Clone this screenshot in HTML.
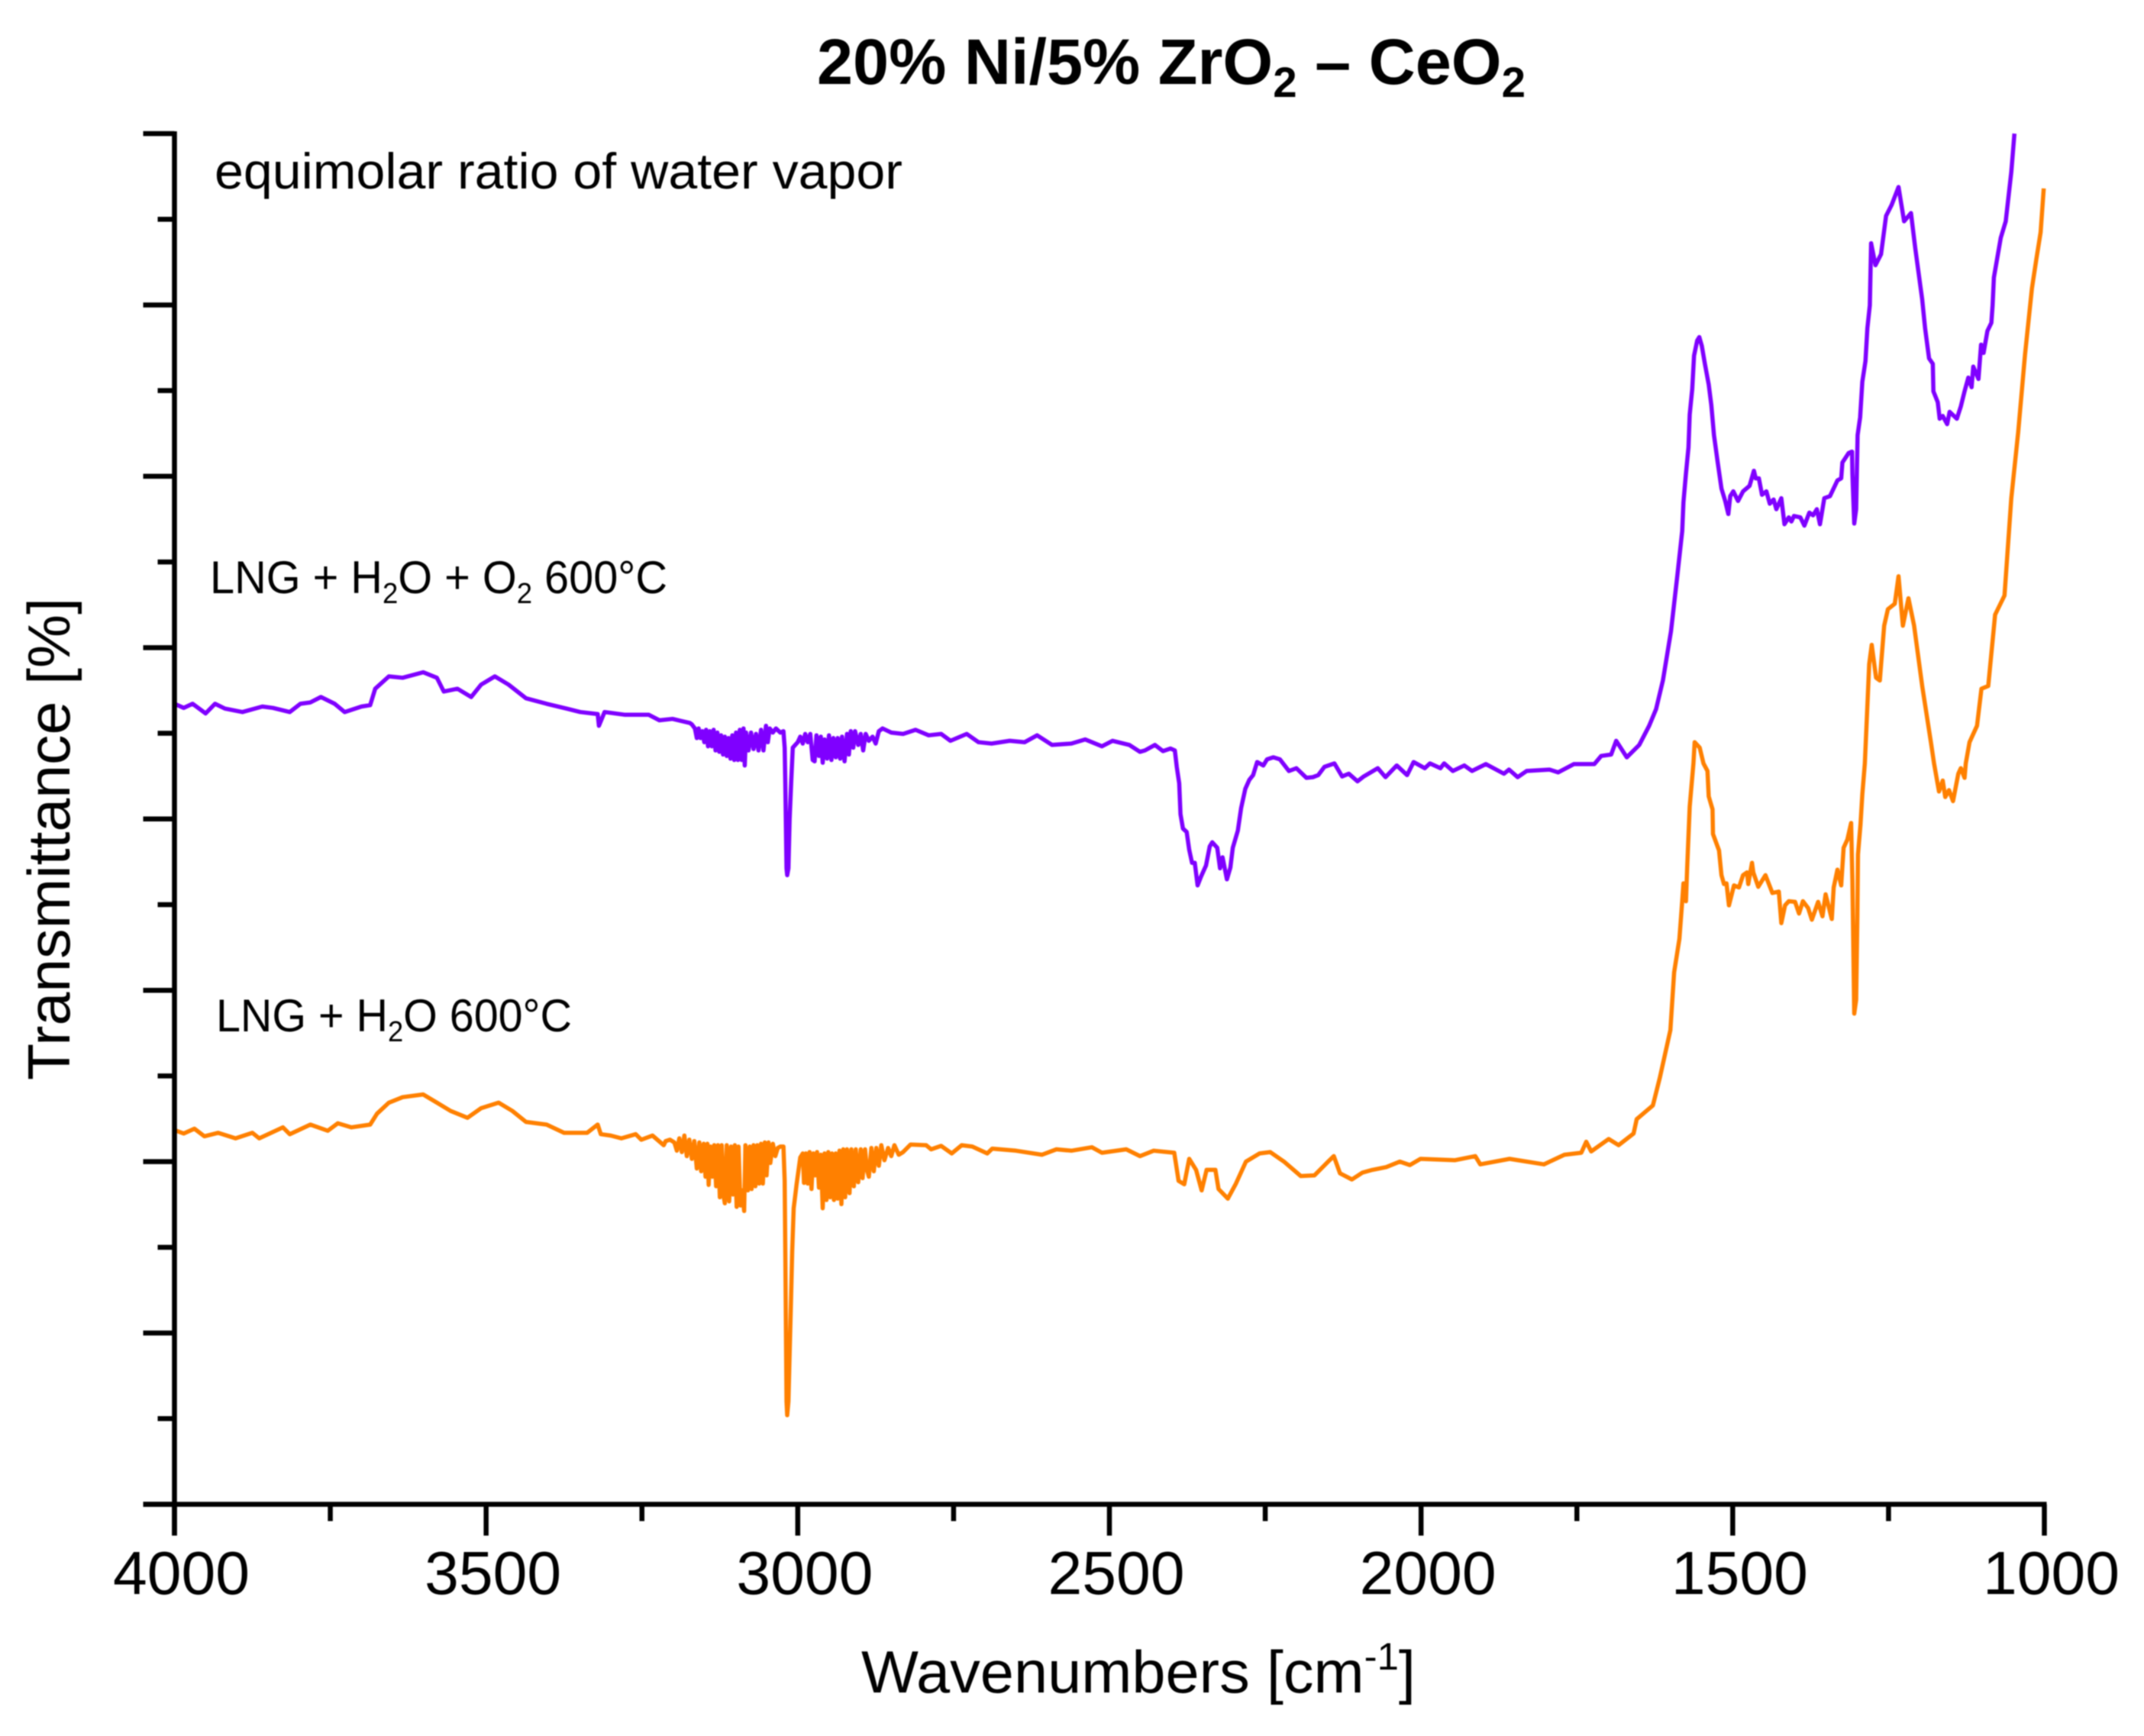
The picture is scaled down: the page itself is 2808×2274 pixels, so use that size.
<!DOCTYPE html>
<html lang="en">
<head>
<meta charset="utf-8">
<title>20% Ni/5% ZrO2 – CeO2 FTIR spectra</title>
<style>
  html, body { margin: 0; padding: 0; background: #ffffff; }
  svg { display: block; filter: blur(0.8px); }
  text { font-family: "Liberation Sans", sans-serif; fill: #000000; }
</style>
</head>
<body>
<svg id="chart" xmlns="http://www.w3.org/2000/svg" width="2808" height="2274" viewBox="0 0 2808 2274">
  <rect x="0" y="0" width="2808" height="2274" fill="#ffffff"/>
  <g id="series-layer"></g>
  <g id="axis-layer"></g>

  <text x="1070" y="110" font-size="84" font-weight="bold" textLength="928" lengthAdjust="spacingAndGlyphs">20% Ni/5% ZrO<tspan font-size="56" dy="17">2</tspan><tspan dy="-17"> – CeO</tspan><tspan font-size="56" dy="17">2</tspan></text>

  <text x="281" y="247" font-size="66" textLength="901" lengthAdjust="spacingAndGlyphs">equimolar ratio of water vapor</text>

  <text x="275" y="777" font-size="60" textLength="599" lengthAdjust="spacingAndGlyphs">LNG + H<tspan font-size="38" dy="13">2</tspan><tspan dy="-13">O + O</tspan><tspan font-size="38" dy="13">2</tspan><tspan dy="-13"> 600°C</tspan></text>

  <text x="283" y="1351" font-size="60" textLength="466" lengthAdjust="spacingAndGlyphs">LNG + H<tspan font-size="38" dy="13">2</tspan><tspan dy="-13">O 600°C</tspan></text>

  <text x="1128" y="2217" font-size="78" textLength="726" lengthAdjust="spacingAndGlyphs">Wavenumbers [cm<tspan font-size="50" dy="-30">-1</tspan><tspan dy="30">]</tspan></text>

  <text transform="translate(91,1415) rotate(-90)" x="0" y="0" font-size="78" textLength="632" lengthAdjust="spacingAndGlyphs">Transmittance [%]</text>
</svg>

<script>
const xMajorTicks = [4000, 3500, 3000, 2500, 2000, 1500, 1000];
const xMinorTicks = [3750, 3250, 2750, 2250, 1750, 1250];
const xTickLabels = ["4000", "3500", "3000", "2500", "2000", "1500", "1000"];
const yMajorTicks = [0, 12.5, 25, 37.5, 50, 62.5, 75, 87.5, 100];
const yMinorTicks = [6.25, 18.75, 31.25, 43.75, 56.25, 68.75, 81.25, 93.75];

const purpleWavenumbers = [4000,3985,3971,3950,3935,3919,3891,3859,3842,3815,3798,3782,3765,3743,3727,3700,3686,3678,3656,3634,3601,3579,3568,3546,3524,3508,3486,3464,3436,3403,3371,3349,3321,3319,3310,3277,3239,3222,3201,3173,
3170,3165,3162,3159,3156,3153,3150,3147,3144,3141,3138,3135,3132,3129,3126,3123,3120,3117,3114,3111,3108,3105,3102,3099,3096,3093,3090,3087,3085,3083,3079,3075,3071,3067,3063,3059,3055,3051,3048,3045,3040,3035,3028,3023,
3021,3020,3018,3017,3015,3013,3010.5,3008,3000,2996,
2992,2988,2984,2980,2976,2973,2970,2966,2963,2960,2957,2953,2950,2946,2943,2939,2936,2932,2929,2925,2921,2918,2915,2911,2908,2903,2899,2895,2891,2886,2880,2875,2870,2864,
2850,2831,2811,2790,2770,2755,2729,2710,2689,2660,2636,2616,2592,2561,2539,2512,2495,2468,2451,
2443,2427,2414,2402,2395,2392,2388,2386,2382,2376,2372,2367.5,2363,2358.5,2353,2345,2339,2335,2327,2322.5,2318.5,2311.5,2306,2302,2294,2288.7,2282,2275.6,2269.5,2263,2253,2247,2237,2226.6,2212,2200,2184,2173.5,2165,2155,2139,2126.6,2116,2102,2092,2069.4,2057,2039,2022.4,2012,1994,1985.7,1969,1963,1949,1930.6,1918.3,1896,1867,1859,1845,1830.5,
1794,1780,1755,1722,1711,1695,1687,1670,1650,1634,1623,1612,1599,1589,
1581,1579,1575,1571,1569,1565,1562,1557,1553.6,1549.5,1544.6,1538.5,1534.4,1530,1524,1518,1512,1507,1504,1499,1491.5,1483.4,1473,1466,1463,1458,1453,1446,1440.5,1434.4,1430,1422,1417,1410,1405.8,1401.7,1391.5,1385,1377,1371,1365,1360,1353,1344,1332,1326,1324,1314,1308.6,1308,1305,1302,1299.6,1295.6,1292,1287,1284,1280,
1278,1271,1262,1254,1245,1234,1225,1214,1207,1196,
1191.4,1185,1179,1178,1171,1168,1163,1156,1152,1140.4,1134,1128,1122,1116.7,1114,1105.7,1101.6,1097.5,1091.4,1085,1083,
1081,1070,1062,1053,1048];

const purpleTransmittance = [58.4,58.1,58.4,57.7,58.4,58.05,57.8,58.2,58.1,57.8,58.4,58.5,58.9,58.4,57.8,58.2,58.3,59.5,60.4,60.3,60.7,60.3,59.3,59.5,58.9,59.8,60.4,59.8,58.8,58.4,58.05,57.8,57.65,56.8,57.8,57.6,57.6,57.2,57.3,57.0,
56.9,56.6,55.9,56.6,55.9,56.4,55.6,56.5,55.3,56.4,55.3,56.5,55.0,56.3,54.9,56.1,54.7,56.0,54.6,55.9,54.4,56.1,54.3,56.3,54.3,56.5,54.3,56.6,53.9,56.3,55.0,56.3,55.1,56.2,55.0,56.5,55.0,56.8,55.6,56.6,56.3,56.6,56.3,56.4,
55.2,52.6,46.4,45.9,46.4,50.0,52.8,55.2,55.6,56.0,
55.5,56.2,55.6,56.2,54.3,54.2,56.1,54.6,56.0,54.1,55.8,54.4,56.1,54.3,55.9,54.5,55.9,54.4,56.0,54.2,56.2,54.7,56.4,55.2,56.4,55.4,56.2,55.0,56.2,55.7,56.0,55.5,56.4,56.6,
56.3,56.2,56.5,56.1,56.2,55.7,56.2,55.6,55.5,55.7,55.6,56.1,55.4,55.5,55.8,55.3,55.7,55.4,54.9,
55.0,55.4,54.95,55.14,55.0,53.8,52.6,50.35,49.3,49.05,47.75,46.8,46.8,45.15,45.8,46.6,48.0,48.3,47.9,46.4,47.2,45.6,46.45,47.9,49.15,50.8,52.2,52.85,53.2,54.15,53.9,54.35,54.5,54.35,53.5,53.7,53.0,53.05,53.2,53.8,54.05,53.1,53.3,52.75,53.1,53.7,53.05,53.9,53.2,54.15,53.7,54.05,53.7,54.05,53.5,53.9,53.5,54.0,53.3,53.6,53.05,53.5,
53.6,53.4,54.0,54.0,54.6,54.7,55.7,54.5,55.4,56.8,58.0,60.1,63.7,67.7,
71.0,73.1,75.2,77.1,79.5,81.35,83.8,84.9,85.15,84.5,83.2,81.7,80.2,78.0,76.0,74.1,73.2,72.25,73.55,73.9,73.2,73.9,74.3,75.4,74.85,74.85,73.65,73.9,73.0,73.3,72.6,73.4,71.5,72.0,71.7,72.1,72.0,71.4,72.35,72.15,72.6,71.5,73.4,73.55,74.7,74.85,76.0,76.7,76.8,75.2,71.55,72.6,78.0,79.3,81.9,83.4,85.8,87.47,
92.0,90.4,91.2,94.0,94.8,96.1,93.6,94.2,91.6,87.9,
85.8,83.6,83.2,81.2,80.4,79.2,79.4,78.8,79.7,79.2,80.1,81.2,82.2,81.5,83.0,82.1,84.6,84.0,85.6,86.2,87.47,
89.5,92.4,93.6,97.2,100];

const orangeWavenumbers = [4000,3985,3968,3952,3930,3902,3875,3864,3826,3815,3782,3754,3738,3716,3686,3675,3656,3634,3601,3579,3557,3530,3508,3480,3458,3436,3403,3375,3338,3321,3316,3300,3283,3260,3251,3239,3233,3215,
3212,3205,3198,3194,3190,3186,3182,3178,3174,3170,3166,3162,3158,3155,3151,3148,3145,3143,3140,3137,3134,3131,3128,3125,3122,3119,3117,3114,3110,3107,3104,3101,3098,3095,3092,3089,3086,3084,3080,3077,3074,3071,3068,3065,3062,3059,3056,3053,3050,3047,3044,3040,3036,3032,3028,3023,
3021,3020,3018,3017,3015,3013,3011,3009,3006.5,3002,
2996,2992,2990,2987,2984,2981,2978,2975,2972,2969,2966,2963,2960,2957,2954,2951,2948,2945,2942,2939,2936,2933,2930,2927,2924,2921,2917,2914,2910,2907,2903,2899,2896,2892,2889,2886,2882,2878,2874,2870,2866,2861,2855,2850,2845,2838,2831,
2819,2794,2786,2770,2753,2737,2720,2696,2688,2650,2608,2585,2561,2528,2512,2473,2451,2429,2396,2389,2380,2372,2361,2352,2344,2330,2325,2310,2297,2281,2259,2242,2220,2193,2171,2149,2140,2130,2111,2094,2078,2056,2034,2018,2001,1946,1913,1905,1858,1803,1770,1743,1735,1727,1699,1683,1659,1654,1628,1617,
1600,1594,1585.5,1581,1579,1575,1573,1569,1563,1561,1553,1547,1540.5,1538.5,1532.4,1531.6,1522,1518,1514,1510,1506,1498,1490,1483.4,1477,1475,1469,1467,1459,1447.5,1436.4,1426,1422,1416,1410,1400,1393.6,1387.4,1379,1373,1363,1356,1351,1341,1338,1332,1326,1322,1316,1310,1308,1305,1302,1300,1299,1295,1292,1288,
1281,1277,1270,1264,1257,1251,1240,1234,1227,1218,1209,1196,1182,
1177,1169,1163,1159,1153,1146.5,1138,1134,1128,1126,
1120,1108,1101,1090,1079,1064,1053,1042,1031,1020,1013,1006,1001];

const orangeTransmittance = [27.3,27.05,27.4,26.85,27.1,26.7,27.1,26.7,27.5,27.0,27.7,27.25,27.8,27.5,27.7,28.5,29.3,29.7,29.9,29.3,28.7,28.2,28.9,29.3,28.7,27.9,27.7,27.1,27.1,27.7,27.0,26.9,26.7,27.0,26.6,26.8,26.9,26.2,
26.5,26.6,26.4,25.8,26.7,25.7,26.9,25.4,26.6,25.2,26.5,24.5,26.4,24.3,26.3,23.9,26.3,23.3,26.1,23.9,26.2,23.2,26.2,22.4,26.2,22.5,21.96,26.2,22.1,26.1,22.6,26.2,21.7,26.1,21.8,22.9,21.4,26.2,22.9,26.1,23.0,26.2,23.2,26.2,23.4,26.3,23.4,26.4,24.0,26.4,24.9,26.3,25.4,26.0,26.1,26.1,
23.6,18.4,7.5,6.5,7.5,11.0,14.7,18.4,21.6,23.3,
25.3,25.6,23.45,25.6,23.4,25.7,23.0,25.6,24.0,25.7,23.1,25.5,21.6,25.6,22.2,25.7,22.4,25.6,22.2,25.6,22.3,25.8,21.9,25.9,22.4,25.9,22.7,25.9,23.2,25.9,23.5,25.9,23.8,25.9,24.4,23.9,26.0,24.3,26.0,24.7,26.2,25.1,26.0,25.4,26.2,25.5,25.7,
26.25,26.2,25.9,26.15,25.6,26.2,26.1,25.6,25.95,25.8,25.5,25.9,25.8,26.05,25.65,25.9,25.4,25.8,25.65,23.6,23.35,25.2,24.4,22.9,24.4,24.4,23.0,22.3,23.4,25.0,25.6,25.7,25.0,23.95,24.0,25.0,25.4,24.15,23.7,24.2,24.4,24.6,25.0,24.75,25.2,25.1,25.4,24.8,25.2,24.8,25.5,25.65,26.45,25.75,26.65,26.2,27.05,28.1,29.1,31.1,
34.6,38.8,41.25,44.0,45.3,44.0,46.45,50.9,54.06,55.6,55.2,54.06,53.5,51.65,50.7,48.9,47.7,45.9,45.25,45.3,43.7,45.15,45.0,45.9,46.1,45.25,46.8,46.1,45.05,45.9,44.6,44.7,42.4,43.7,44.0,43.95,43.1,44.0,43.5,42.65,43.95,42.9,44.5,42.7,45.0,46.3,45.15,47.9,48.5,49.7,45.5,35.8,36.8,42.9,47.4,49.6,51.8,54.06,
61.3,62.7,60.3,60.1,64.1,65.3,65.7,67.7,64.1,66.1,64.1,59.7,55.6,
54.06,52.0,52.8,51.6,52.1,51.3,53.3,53.7,53.0,54.06,
55.6,56.8,59.5,59.7,64.9,66.3,73.4,78.2,83.9,88.7,90.8,92.8,96.0];

const plotLeft = 228.5, plotRight = 2677.5, plotTop = 175, plotBottom = 1970.5;
const majorLength = 41, minorLength = 22;
const svgNS = "http://www.w3.org/2000/svg";
const seriesLayer = document.getElementById("series-layer");
const axisLayer = document.getElementById("axis-layer");

function xScale(wavenumber) {
  return plotLeft + (4000 - wavenumber) / 3000 * (plotRight - plotLeft);
}
function yScale(value) {
  return plotBottom - value / 100 * (plotBottom - plotTop);
}
function linePath(xs, ys) {
  let d = "";
  for (let i = 0; i < xs.length; i++) {
    d += (i === 0 ? "M" : "L") + xScale(xs[i]).toFixed(1) + " " + yScale(ys[i]).toFixed(1);
  }
  return d;
}
function addLine(x1, y1, x2, y2, width) {
  const line = document.createElementNS(svgNS, "line");
  line.setAttribute("x1", x1);
  line.setAttribute("y1", y1);
  line.setAttribute("x2", x2);
  line.setAttribute("y2", y2);
  line.setAttribute("stroke", "#000000");
  line.setAttribute("stroke-width", width);
  axisLayer.appendChild(line);
  return line;
}

const purplePath = document.createElementNS(svgNS, "path");


purplePath.setAttribute("d", linePath(purpleWavenumbers, purpleTransmittance));
purplePath.setAttribute("fill", "none");
purplePath.setAttribute("stroke", "#7F00FF");
purplePath.setAttribute("stroke-width", "5.5");
purplePath.setAttribute("stroke-linejoin", "round");
seriesLayer.appendChild(purplePath);

const orangePath = document.createElementNS(svgNS, "path");


orangePath.setAttribute("d", linePath(orangeWavenumbers, orangeTransmittance));
orangePath.setAttribute("fill", "none");
orangePath.setAttribute("stroke", "#FF8000");
orangePath.setAttribute("stroke-width", "5.5");
orangePath.setAttribute("stroke-linejoin", "round");
seriesLayer.appendChild(orangePath);

const yAxisLine = addLine(plotLeft, plotTop - 3, plotLeft, plotBottom + majorLength, 6.5);



const xAxisLine = addLine(plotLeft - majorLength, plotBottom, plotRight + 3, plotBottom, 6.5);



xMajorTicks.forEach(function (tick, i) {
  const mark = addLine(xScale(tick), plotBottom, xScale(tick), plotBottom + majorLength, 6.5);
  
  
  const label = document.createElementNS(svgNS, "text");
  
  
  label.setAttribute("x", xScale(tick) + 9);
  label.setAttribute("y", 2088);
  label.setAttribute("font-size", "80");
  label.setAttribute("text-anchor", "middle");
  label.setAttribute("textLength", "179");
  label.setAttribute("lengthAdjust", "spacingAndGlyphs");
  label.textContent = xTickLabels[i];
  axisLayer.appendChild(label);
});
xMinorTicks.forEach(function (tick) {
  const mark = addLine(xScale(tick), plotBottom, xScale(tick), plotBottom + minorLength, 6.5);
  
  
});
yMajorTicks.forEach(function (tick) {
  const mark = addLine(plotLeft - majorLength, yScale(tick), plotLeft, yScale(tick), 6.5);
  
  
});
yMinorTicks.forEach(function (tick) {
  const mark = addLine(plotLeft - minorLength, yScale(tick), plotLeft, yScale(tick), 6.5);
  
  
});
</script>
</body>
</html>
